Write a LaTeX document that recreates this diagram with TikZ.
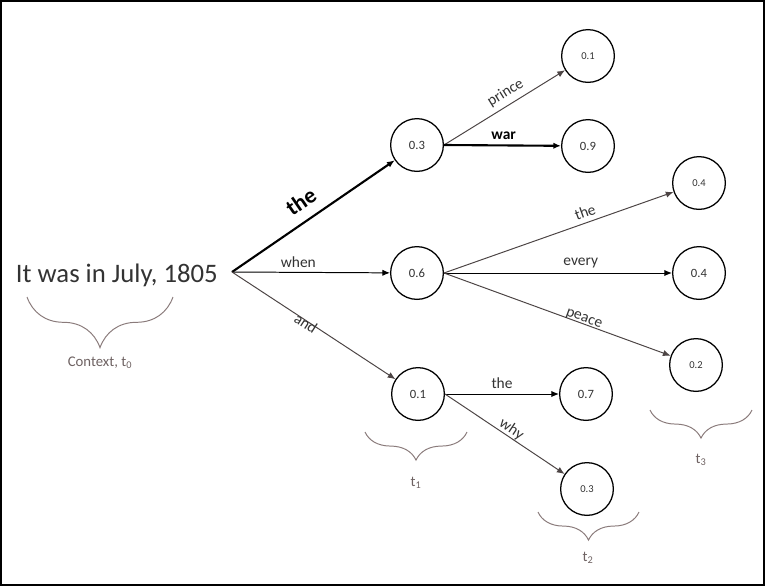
\documentclass[tikz,border=0pt]{standalone}
\usepackage{fontspec}
\setmainfont{Carlito}
\usetikzlibrary{arrows.meta,decorations.pathreplacing}
\definecolor{labgray}{HTML}{333333}
\definecolor{edgegray}{HTML}{4C4444}
\definecolor{bracegray}{HTML}{8A7B7B}
\tikzset{
  prob/.style={draw, circle, minimum size=37.5pt, inner sep=0pt, line width=0.9pt,
    text=labgray, font=\fontsize{9}{10}\selectfont},
  probs/.style={prob, font=\fontsize{7.5}{9}\selectfont},
  edge/.style={-{Latex[length=5.5pt,width=4.5pt]}, line width=0.7pt},
  edgeg/.style={edge, draw=edgegray},
  edgethick/.style={edge, line width=1.5pt},
  word/.style={text=labgray, font=\fontsize{11}{12}\selectfont},
  wordb/.style={text=black, font=\bfseries\fontsize{11}{12}\selectfont},
  tbrace/.style={draw=bracegray, line width=0.7pt, decorate,
    decoration={brace, mirror, amplitude=#1}},
  tlabel/.style={text=bracegray!80!black, font=\fontsize{10.5}{12}\selectfont}
}
\begin{document}
\begin{tikzpicture}[x=0.025cm, y=-0.025cm]
\useasboundingbox (0,0) rectangle (765,586);
% Rahmen
\draw[line width=1.2pt] (1,1) rectangle (764,585);
% Kontext
\node[anchor=base east, inner sep=0pt, text=black!80, font=\fontsize{19}{22}\selectfont] (ctx) at (218,282) {It was in July, 1805};
\coordinate (root) at (232,272);
% Knoten
\node[prob] (a1) at (417,145) {0.3};
\node[prob] (a2) at (417,273) {0.6};
\node[prob] (a3) at (418,394) {0.1};
\node[probs] (b1) at (588,56) {0.1};
\node[prob] (b2) at (588,146) {0.9};
\node[probs] (b3) at (699,183) {0.4};
\node[prob] (b4) at (699,273) {0.4};
\node[probs] (b5) at (696,365) {0.2};
\node[prob] (b6) at (586,394) {0.7};
\node[probs] (b7) at (587,489) {0.3};
% Pfeile
\draw[edgethick] (root) -- node[pos=0.49, sloped, above=4pt, text=black, font=\bfseries\fontsize{16}{18}\selectfont] {the} (a1);
\draw[edge] (root) -- node[pos=0.42, above, word] {when} (a2);
\draw[edgeg] (root) -- node[pos=0.46, sloped, below=-6pt, word] {and} (a3);
\draw[edgeg] (a1.east) -- node[pos=0.56, sloped, above, word] {prince} (b1);
\draw[edgethick] (a1.east) -- node[pos=0.51, above, wordb] {war} (b2);
\draw[edgeg] (a2.east) -- node[pos=0.63, sloped, above, word] {the} (b3);
\draw[edge] (a2.east) -- node[pos=0.6, above, word] {every} (b4);
\draw[edgeg] (a2.east) -- node[pos=0.61, sloped, above=-4pt, word] {peace} (b5);
\draw[edge] (a3.east) -- node[pos=0.5, above, word] {the} (b6);
\draw[edgeg] (a3.east) -- node[pos=0.52, sloped, above=-3pt, word] {why} (b7);
% Klammern
\draw[tbrace=36pt] (27,297) -- (173,297);
\draw[tbrace=20pt] (365,432) -- (467,432);
\draw[tbrace=20pt] (538,512) -- (639,512);
\draw[tbrace=20pt] (650,410) -- (752,410);
\node[tlabel] (tc) at (100,363) {Context, t\textsubscript{0}};
\node[tlabel] (t1) at (416,483) {t\textsubscript{1}};
\node[tlabel] (t2) at (588,558) {t\textsubscript{2}};
\node[tlabel] (t3) at (701,460) {t\textsubscript{3}};
\end{tikzpicture}
\end{document}
